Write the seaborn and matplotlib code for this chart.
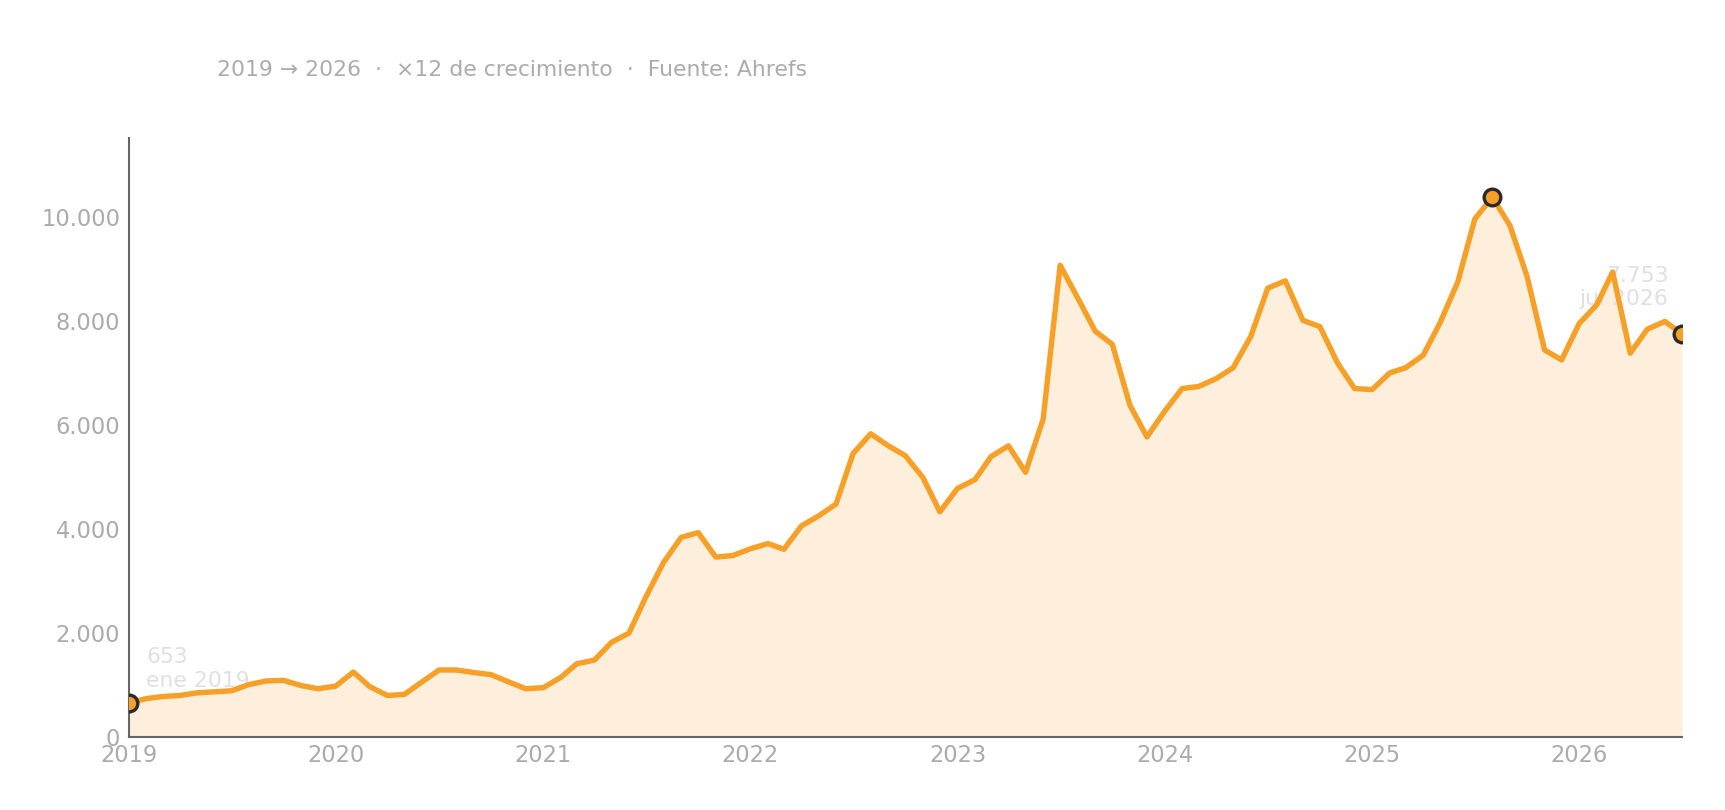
import matplotlib
matplotlib.use("Agg")
import matplotlib.pyplot as plt
import matplotlib.dates as mdates
import matplotlib.ticker as mticker
import numpy as np
import pandas as pd
import seaborn as sns

# ---- data (monthly organic traffic, Jan 2019 .. Jul 2026) ----
start_month = "2019-01-01"
traffic_2019 = [653, 740, 780, 800, 850, 870, 890, 1010, 1080, 1090, 990, 930]
traffic_2020 = [980, 1250, 970, 800, 820, 1060, 1290, 1290, 1240, 1200, 1060, 930]
traffic_2021 = [950, 1150, 1410, 1480, 1820, 2000, 2700, 3360, 3840, 3930, 3460, 3490]
traffic_2022 = [3620, 3720, 3610, 4060, 4250, 4480, 5450, 5830, 5600, 5410, 4990, 4330]
traffic_2023 = [4780, 4950, 5390, 5600, 5090, 6110, 9070, 8440, 7800, 7550, 6380, 5770]
traffic_2024 = [6260, 6700, 6740, 6890, 7100, 7700, 8630, 8770, 8010, 7890, 7190, 6700]
traffic_2025 = [6680, 7000, 7100, 7340, 7970, 8750, 9960, 10380, 9830, 8860, 7440, 7250]
traffic_2026 = [7950, 8310, 8940, 7380, 7840, 7990, 7753]
month_abbr = ["ene", "feb", "mar", "abr", "may", "jun",
              "jul", "ago", "sep", "oct", "nov", "dic"]
subtitle = "2019 → 2026  ·  ×12 de crecimiento  ·  Fuente: Ahrefs"

traffic = (traffic_2019 + traffic_2020 + traffic_2021 + traffic_2022 +
           traffic_2023 + traffic_2024 + traffic_2025 + traffic_2026)
dates = pd.date_range(start_month, periods=len(traffic), freq="MS")
df = pd.DataFrame({"fecha": dates, "trafico": traffic})

# ---- style ----
sns.set_style("white")
plt.rcParams["font.family"] = ["DejaVu Sans"]

ORANGE = "#F7A028"
GREY_TXT = "#ababab"
SPINE = "#666666"

fig = plt.figure(figsize=(11.5, 5.4), dpi=150)
ax = fig.add_axes([0.0746, 0.090, 0.9004, 0.740])

ax.fill_between(df["fecha"], df["trafico"], 0, color=ORANGE, alpha=0.16,
                linewidth=0, zorder=1)
sns.lineplot(data=df, x="fecha", y="trafico", ax=ax, color=ORANGE,
             linewidth=2.6, zorder=3)

# highlighted points: first, max, last
i_max = int(np.argmax(traffic))
for i in [0, i_max, len(traffic) - 1]:
    ax.plot(df["fecha"].iloc[i], traffic[i], marker="o", markersize=8,
            markerfacecolor=ORANGE, markeredgecolor="#2a2a2a",
            markeredgewidth=1.6, zorder=4)

def fmt_thousands(v):
    return f"{int(round(v)):,}".replace(",", ".")

def label_for(i):
    d = df["fecha"].iloc[i]
    return f"{fmt_thousands(traffic[i])}\n{month_abbr[d.month - 1]} {d.year}"

ax.annotate(label_for(0), xy=(df["fecha"].iloc[0], traffic[0]),
            xytext=(8.5, 6), textcoords="offset points", ha="left", va="bottom",
            fontsize=10.5, color="#e0e0e0", linespacing=1.2, zorder=2)
last = len(traffic) - 1
ax.annotate(label_for(last), xy=(df["fecha"].iloc[last], traffic[last]),
            xytext=(-6.5, 12), textcoords="offset points", ha="right", va="bottom",
            fontsize=10.5, color="#e0e0e0", linespacing=1.2, zorder=2)

# axes
ax.set_xlim(df["fecha"].iloc[0], df["fecha"].iloc[-1])
ax.set_ylim(0, max(traffic) * 1.11)
ax.xaxis.set_major_locator(mdates.YearLocator())
ax.xaxis.set_major_formatter(mdates.DateFormatter("%Y"))
ax.yaxis.set_major_locator(mticker.MultipleLocator(2000))
ax.yaxis.set_major_formatter(mticker.FuncFormatter(lambda v, p: fmt_thousands(v)))
ax.tick_params(axis="x", length=0, pad=3.5, labelsize=10.8, labelcolor=GREY_TXT)
ax.tick_params(axis="y", length=0, pad=4, labelsize=10.8, labelcolor=GREY_TXT)
ax.set_xlabel("")
ax.set_ylabel("")
ax.grid(False)
for s in ["top", "right"]:
    ax.spines[s].set_visible(False)
for s in ["left", "bottom"]:
    ax.spines[s].set_color(SPINE)
    ax.spines[s].set_linewidth(1.0)

fig.text(0.126, 0.913, subtitle, ha="left", va="center", fontsize=10.5,
         color=GREY_TXT)

fig.savefig("out.png", dpi=150, facecolor="white")
